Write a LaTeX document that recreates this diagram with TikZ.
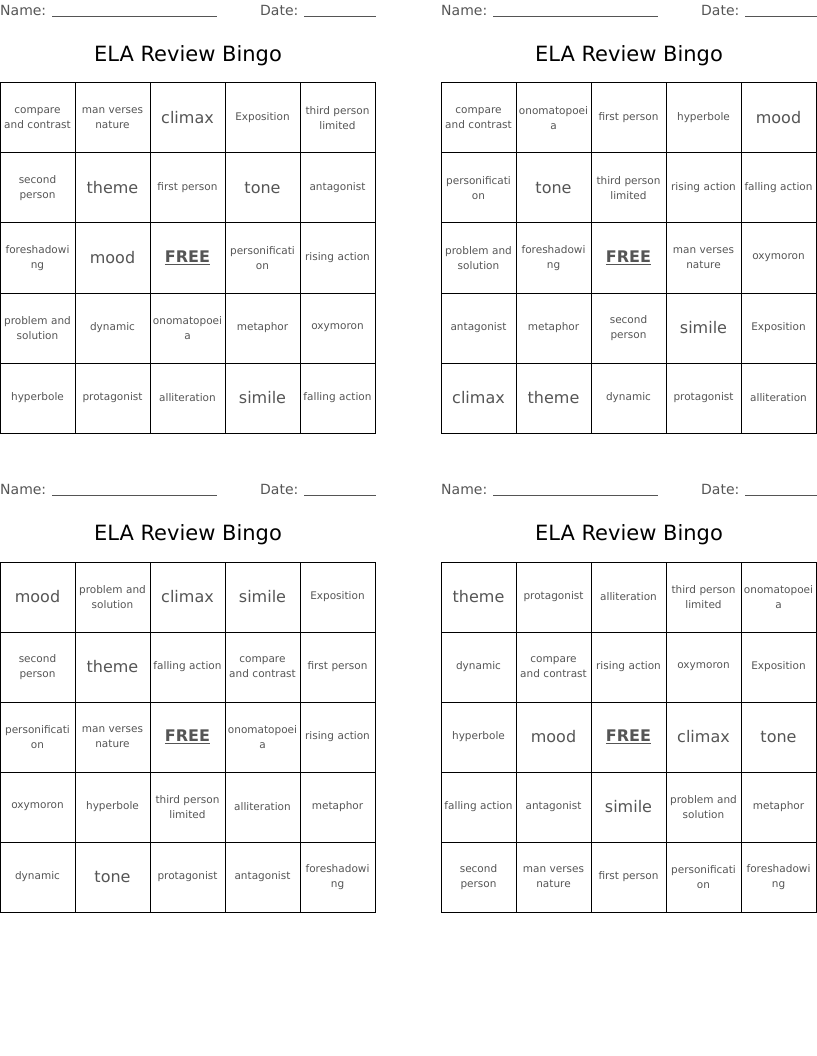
\documentclass[tikz,border=0pt]{standalone}
\usepackage{fontspec}
\setmainfont{DejaVu Sans}
\usetikzlibrary{positioning}
\definecolor{ink}{HTML}{555555}

\tikzset{
  cell/.style={draw=black, line width=1pt, minimum width=75pt, minimum height=70pt,
    inner sep=0pt, text width=74pt, align=center, text=ink},
  sm/.style={font=\fontsize{10.5}{15}\selectfont},
  bg/.style={font=\fontsize{16}{18}\selectfont},
  fr/.style={font=\fontsize{16}{18}\selectfont\bfseries},
  head/.style={anchor=west, inner sep=0pt, text=ink, font=\fontsize{14}{16}\selectfont},
  title/.style={inner sep=0pt, font=\fontsize{21}{24}\selectfont}
}

% one card: name, left x, top y, 25 cells
\newcommand{\bingocard}[4]{
  \node[head] (#1name) at (#2,#3+11) {Name: \underline{\hspace{165pt}}};
  \node[head] (#1date) at (#2+260,#3+11) {Date: \underline{\hspace{72pt}}};
  \node[title] (#1title) at (#2+188,#3+56) {ELA Review Bingo};
  \foreach \t/\f [count=\i from 0] in {#4} {
    \pgfmathtruncatemacro{\c}{mod(\i,5)}
    \pgfmathtruncatemacro{\r}{int(\i/5)}
    \node[cell,\f] (#1-\r-\c) at (#2+37.5+75*\c,#3+118+70*\r) {\t};
  }
}

\begin{document}
\begin{tikzpicture}[x=1pt,y=-1pt]
\useasboundingbox (0,0) rectangle (816,1056);

\bingocard{a}{0}{0}{
  {compare\\and contrast}/sm, {man verses\\nature}/sm, climax/bg, Exposition/sm, {third person\\limited}/sm,
  {second\\person}/sm, theme/bg, first person/sm, tone/bg, antagonist/sm,
  {foreshadowi\\ng}/sm, mood/bg, \underline{FREE}/fr, {personificati\\on}/sm, rising action/sm,
  {problem and\\solution}/sm, dynamic/sm, {onomatopoei\\a}/sm, metaphor/sm, oxymoron/sm,
  hyperbole/sm, protagonist/sm, alliteration/sm, simile/bg, falling action/sm}

\bingocard{b}{441}{0}{
  {compare\\and contrast}/sm, {onomatopoei\\a}/sm, first person/sm, hyperbole/sm, mood/bg,
  {personificati\\on}/sm, tone/bg, {third person\\limited}/sm, rising action/sm, falling action/sm,
  {problem and\\solution}/sm, {foreshadowi\\ng}/sm, \underline{FREE}/fr, {man verses\\nature}/sm, oxymoron/sm,
  antagonist/sm, metaphor/sm, {second\\person}/sm, simile/bg, Exposition/sm,
  climax/bg, theme/bg, dynamic/sm, protagonist/sm, alliteration/sm}

\bingocard{c}{0}{479}{
  mood/bg, {problem and\\solution}/sm, climax/bg, simile/bg, Exposition/sm,
  {second\\person}/sm, theme/bg, falling action/sm, {compare\\and contrast}/sm, first person/sm,
  {personificati\\on}/sm, {man verses\\nature}/sm, \underline{FREE}/fr, {onomatopoei\\a}/sm, rising action/sm,
  oxymoron/sm, hyperbole/sm, {third person\\limited}/sm, alliteration/sm, metaphor/sm,
  dynamic/sm, tone/bg, protagonist/sm, antagonist/sm, {foreshadowi\\ng}/sm}

\bingocard{d}{441}{479}{
  theme/bg, protagonist/sm, alliteration/sm, {third person\\limited}/sm, {onomatopoei\\a}/sm,
  dynamic/sm, {compare\\and contrast}/sm, rising action/sm, oxymoron/sm, Exposition/sm,
  hyperbole/sm, mood/bg, \underline{FREE}/fr, climax/bg, tone/bg,
  falling action/sm, antagonist/sm, simile/bg, {problem and\\solution}/sm, metaphor/sm,
  {second\\person}/sm, {man verses\\nature}/sm, first person/sm, {personificati\\on}/sm, {foreshadowi\\ng}/sm}
\end{tikzpicture}
\end{document}
